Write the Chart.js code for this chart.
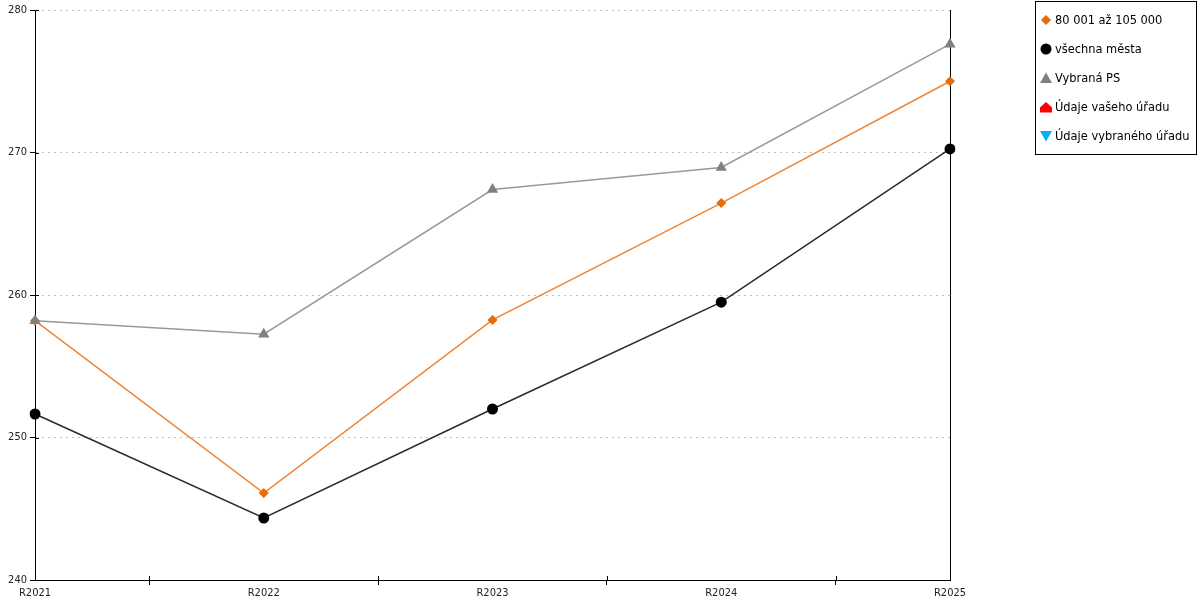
<!DOCTYPE html>
<html>
<head>
<meta charset="utf-8">
<script src="https://cdn.jsdelivr.net/npm/chart.js@4"></script>
<style>
  html, body { margin: 0; padding: 0; background: #fff; }
  #wrap { position: relative; width: 1200px; height: 600px; }
  #key {
    position: absolute; left: 1035px; top: 1px; width: 160px; height: 152px;
    border: 1px solid #000; box-sizing: content-box;
    font: 12.7px 'DejaVu Sans Condensed', 'DejaVu Sans', sans-serif; color: #000;
  }
  #key div { position: absolute; left: 0; height: 16px; line-height: 16px; white-space: nowrap; }
  #key svg { position: absolute; left: 2px; top: 2px; }
  #key span { position: absolute; left: 17px; top: 0; }
</style>
</head>
<body>
<div id="wrap">
  <canvas id="chart" width="1200" height="600"></canvas>
  <div id="key"></div>
</div>
<script>
const years = ['R2021', 'R2022', 'R2023', 'R2024', 'R2025'];
const size80to105 = [258.2, 246.1, 258.25, 266.45, 275.0];
const allCities = [251.65, 244.35, 252.0, 259.5, 270.25];
const selectedPS = [258.2, 257.25, 267.4, 268.95, 277.6];
const yTicks = [240, 250, 260, 270, 280];

const legendNames = ['80 001 až 105 000', 'všechna města', 'Vybraná PS', 'Údaje vašeho úřadu', 'Údaje vybraného úřadu'];
const legendShapes = [
  '<polygon points="6,1 11,6 6,11 1,6" fill="#e46c0a"/>',
  '<circle cx="6" cy="6" r="5.5" fill="#000"/>',
  '<polygon points="6,0.5 12,11 0,11" fill="#808080"/>',
  '<polygon points="6,1 12,6.5 12,11.5 0,11.5 0,6.5" fill="#ff0000"/>',
  '<polygon points="0,1 12,1 6,11.5" fill="#00b0f0"/>',
];

// html key with the border, like the original
const key = document.getElementById('key');
legendNames.forEach((name, i) => {
  const row = document.createElement('div');
  row.style.top = (10 + i * 29) + 'px';
  row.style.left = '2px';
  row.innerHTML = `<svg width="12" height="12" viewBox="0 0 12 12">${legendShapes[i]}</svg><span>${name}</span>`;
  key.append(row);
});

const font = { family: "'DejaVu Sans Condensed', 'DejaVu Sans', sans-serif", size: 11 };

// short tick marks going into the plot too
const crossTicks = {
  id: 'crossTicks',
  afterDraw(chart) {
    const { ctx, scales: { x, y } } = chart;
    ctx.save();
    ctx.strokeStyle = '#000';
    ctx.lineWidth = 1;
    ctx.beginPath();
    for (let i = 0; i < years.length - 1; i++) {
      const px = Math.round(x.getPixelForValue(i + 0.5)) + 0.5;
      ctx.moveTo(px, y.bottom);
      ctx.lineTo(px, y.bottom - 4);
    }
    yTicks.forEach(v => {
      const py = Math.round(y.getPixelForValue(v)) + 0.5;
      ctx.moveTo(x.left, py);
      ctx.lineTo(x.left + 4, py);
    });
    ctx.stroke();
    ctx.restore();
  },
};

new Chart(document.getElementById('chart'), {
  type: 'line',
  data: {
    labels: years,
    datasets: [
      {
        label: legendNames[0],
        data: size80to105,
        borderColor: '#ef8535',
        borderWidth: 1.5,
        pointStyle: 'rectRot',
        pointRadius: 5,
        pointBackgroundColor: '#e46c0a',
        pointBorderColor: '#e46c0a',
        pointBorderWidth: 0,
        order: 1,
      },
      {
        label: legendNames[1],
        data: allCities,
        borderColor: '#2a2a2a',
        borderWidth: 1.5,
        pointStyle: 'circle',
        pointRadius: 5.5,
        pointBackgroundColor: '#000',
        pointBorderColor: '#000',
        pointBorderWidth: 0,
        order: 2,
      },
      {
        label: legendNames[2],
        data: selectedPS,
        borderColor: '#999',
        borderWidth: 1.5,
        pointStyle: 'triangle',
        pointRadius: 6.5,
        pointBackgroundColor: '#808080',
        pointBorderColor: '#808080',
        pointBorderWidth: 0,
        order: 0,
      },
    ],
  },
  options: {
    responsive: false,
    animation: false,
    layout: { padding: { top: 10, right: 250, left: 0, bottom: 0 } },
    plugins: {
      legend: { display: false },
      tooltip: { enabled: false },
    },
    scales: {
      x: {
        offset: false,
        grid: {
          offset: true,
          drawOnChartArea: false,
          drawTicks: true,
          tickLength: 5,
          tickColor: '#000',
        },
        border: { color: '#000', width: 1 },
        ticks: { color: '#222', font, padding: 2, maxRotation: 0 },
        afterFit(scale) { scale.height = 20; },
      },
      y: {
        min: 240,
        max: 280,
        afterBuildTicks(scale) { scale.ticks = yTicks.map(v => ({ value: v })); },
        grid: {
          color: ctx => (ctx.tick && ctx.tick.value === 240 ? 'transparent' : '#c0c0c0'),
          tickColor: '#000',
          tickLength: 5,
          tickBorderDash: [],
        },
        border: { color: '#000', width: 1, dash: [2, 4] },
        ticks: { color: '#222', font, padding: 3 },
        afterFit(scale) { scale.width = 35; },
      },
      y2: {
        position: 'right',
        min: 240,
        max: 280,
        grid: { display: false, drawTicks: false },
        border: { color: '#000', width: 1 },
        ticks: { display: false },
        afterFit(scale) { scale.width = 0; },
      },
    },
  },
  plugins: [crossTicks],
});
</script>
</body>
</html>
